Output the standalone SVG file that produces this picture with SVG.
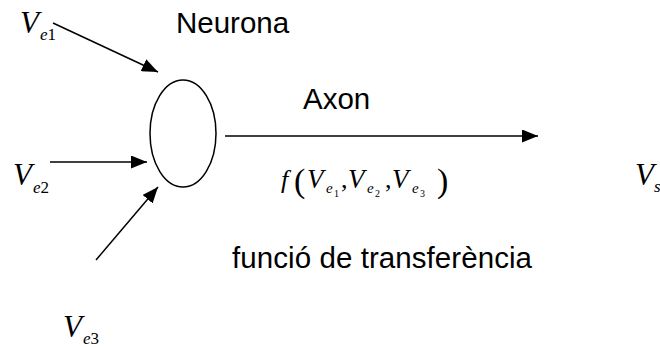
<svg xmlns="http://www.w3.org/2000/svg" width="660" height="347" viewBox="0 0 660 347">
<style>
.lbl{font-family:"Liberation Sans",Arial,sans-serif;font-size:29.5px;fill:#000}
.m{font-family:"Liberation Serif","Times New Roman",serif;fill:#000}
.i{font-style:italic}
.con{stroke:#000;stroke-width:1.5;fill:none}
</style>
<defs>
<marker id="ah" markerUnits="userSpaceOnUse" markerWidth="17" markerHeight="13" refX="16" refY="6.5" orient="auto">
<path d="M0,0 L16,6.5 L0,13 z" fill="#000"/>
</marker>
</defs>
<rect width="660" height="347" fill="#fff"/>
<g id="neuron">
<ellipse cx="183" cy="133.5" rx="33" ry="53.5" fill="none" stroke="#000" stroke-width="1.5"/>
</g>
<g id="connectors">
<line class="con" x1="53" y1="23" x2="158" y2="72" marker-end="url(#ah)"/>
<line class="con" x1="50" y1="162" x2="147" y2="162" marker-end="url(#ah)"/>
<line class="con" x1="96" y1="260" x2="158" y2="187" marker-end="url(#ah)"/>
<line class="con" x1="225" y1="136" x2="538" y2="136" marker-end="url(#ah)"/>
</g>
<g id="labels">
<text class="lbl" x="176" y="33">Neurona</text>
<text class="lbl" x="303" y="109">Axon</text>
<text class="lbl" x="232" y="268" textLength="300" lengthAdjust="spacing">funció de transferència</text>
</g>
<g id="ve1">
<text class="m i" x="20" y="33" font-size="31">V</text>
<text class="m" x="40" y="40" font-size="17"><tspan class="i">e</tspan>1</text>
</g>
<g id="ve2">
<text class="m i" x="13" y="185" font-size="31">V</text>
<text class="m" x="33" y="193" font-size="17"><tspan class="i">e</tspan>2</text>
</g>
<g id="ve3">
<text class="m i" x="63" y="337" font-size="31">V</text>
<text class="m" x="83" y="344" font-size="17"><tspan class="i">e</tspan>3</text>
</g>
<g id="vs">
<text class="m i" x="635" y="185" font-size="31">V</text>
<text class="m i" x="654" y="192" font-size="17">s</text>
</g>
<g id="func">
<text class="m i" x="281" y="188" font-size="26">f</text>
<text class="m" x="294" y="192" font-size="34">(</text>
<text class="m i" x="307" y="188" font-size="27">V</text>
<text class="m i" x="326" y="193" font-size="15">e</text>
<text class="m" x="334" y="197" font-size="10">1</text>
<text class="m" x="341" y="188" font-size="26">,</text>
<text class="m i" x="348" y="188" font-size="27">V</text>
<text class="m i" x="367" y="193" font-size="15">e</text>
<text class="m" x="375" y="197" font-size="10">2</text>
<text class="m" x="385" y="188" font-size="26">,</text>
<text class="m i" x="392" y="188" font-size="27">V</text>
<text class="m i" x="412" y="193" font-size="15">e</text>
<text class="m" x="420" y="197" font-size="10">3</text>
<text class="m" x="437" y="192" font-size="34">)</text>
</g>
</svg>
